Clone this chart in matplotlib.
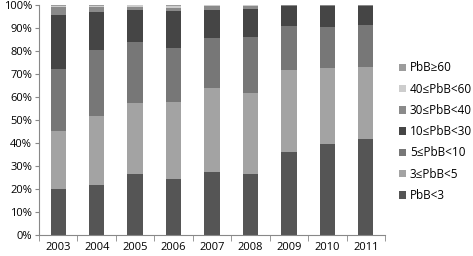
import numpy as np
import matplotlib
matplotlib.use('Agg')
import matplotlib.pyplot as plt

plt.rcParams['font.family'] = ['Open Sans', 'DejaVu Sans']

years = ['2003', '2004', '2005', '2006', '2007', '2008', '2009', '2010', '2011']
labels = ['PbB<3', '3≤PbB<5', '5≤PbB<10', '10≤PbB<30', '30≤PbB<40', '40≤PbB<60', 'PbB≥60']

# percentages per class
pbb_lt3 = [20.0, 21.6, 26.5, 24.3, 27.2, 26.5, 36.0, 39.7, 41.7]
pbb_3_5 = [25.2, 29.9, 30.8, 33.6, 36.6, 35.0, 35.6, 32.8, 31.2]
pbb_5_10 = [26.7, 28.8, 26.5, 23.4, 21.9, 24.3, 19.3, 17.9, 18.1]
pbb_10_30 = [23.8, 16.4, 13.9, 15.8, 12.0, 12.3, 8.5, 9.0, 8.4]
pbb_30_40 = [3.1, 2.1, 1.4, 1.6, 1.6, 1.3, 0.3, 0.3, 0.3]
pbb_40_60 = [0.8, 0.7, 0.6, 0.8, 0.5, 0.5, 0.2, 0.2, 0.2]
pbb_ge60 = [0.4, 0.5, 0.3, 0.5, 0.2, 0.1, 0.1, 0.1, 0.1]

series = [pbb_lt3, pbb_3_5, pbb_5_10, pbb_10_30, pbb_30_40, pbb_40_60, pbb_ge60]
colors = ['#555555', '#a3a3a3', '#777777', '#454545', '#8a8a8a', '#cdcdcd', '#9c9c9c']

fig = plt.figure(figsize=(4.73, 2.56), dpi=100)
ax = fig.add_axes([0.0825, 0.082, 0.7315, 0.9])

x = np.arange(len(years))
bottom = np.zeros(len(years))
handles = []
for vals, c, lab in zip(series, colors, labels):
    b = ax.bar(x, vals, 0.4, bottom=bottom, color=c, label=lab)
    handles.append(b)
    bottom += np.array(vals)

ax.set_xlim(-0.5, len(years) - 0.5)
ax.set_ylim(0, 100)
ax.set_yticks(np.arange(0, 101, 10))
ax.set_yticklabels([f'{v}%' for v in range(0, 101, 10)])
ax.set_xticks(x)
ax.set_xticklabels(years)
ax.set_xticks(np.arange(-0.5, len(years), 1), minor=True)
ax.tick_params(axis='x', which='major', length=0, pad=5, labelsize=8)
ax.tick_params(axis='x', which='minor', length=4, color='#888888', direction='out')
ax.tick_params(axis='y', length=3, color='#888888', labelsize=8, pad=2)

for s in ['top', 'right']:
    ax.spines[s].set_visible(False)
for s in ['left', 'bottom']:
    ax.spines[s].set_color('#888888')

ax.legend(handles[::-1], labels[::-1], loc='upper left', bbox_to_anchor=(0.843, 0.76),
          bbox_transform=fig.transFigure, frameon=False, fontsize=8.5,
          handlelength=0.6, handleheight=0.6, handletextpad=0.35, labelspacing=0.7,
          borderaxespad=0, borderpad=0)

fig.savefig('out.png', dpi=100)
